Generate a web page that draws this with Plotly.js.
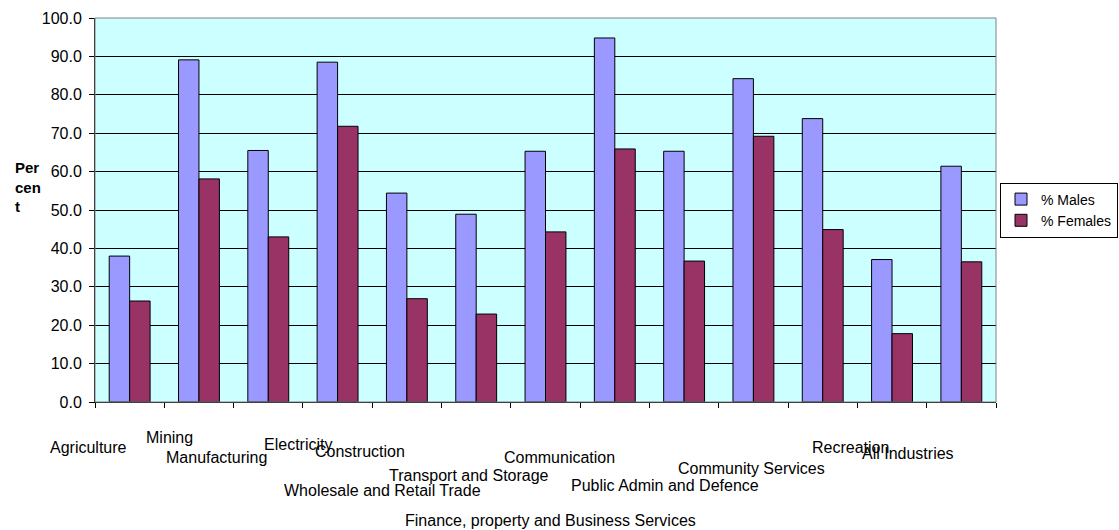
<!DOCTYPE html>
<html>
<head>
<meta charset="utf-8">
<script src="https://cdn.plot.ly/plotly-3.0.1.min.js"></script>
<style>
  html, body { margin: 0; padding: 0; background: #ffffff; }
  #chart { width: 1119px; height: 530px; }
</style>
</head>
<body>
<div id="chart"></div>
<script>
// Industry categories, in axis order
const industries = [
  "Agriculture", "Mining", "Manufacturing", "Electricity", "Construction",
  "Wholesale and Retail Trade", "Transport and Storage", "Communication",
  "Finance, property and Business Services", "Public Admin and Defence",
  "Community Services", "Recreation", "All Industries"
];

// Percentage values per industry
const malesPct   = [38.0, 89.1, 65.5, 88.5, 54.4, 48.9, 65.3, 94.8, 65.3, 84.2, 73.8, 37.1, 61.4];
const femalesPct = [26.3, 58.1, 43.0, 71.8, 26.9, 22.9, 44.3, 65.9, 36.7, 69.2, 44.9, 17.8, 36.5];

// Y axis tick values
const yTicks = [0, 10, 20, 30, 40, 50, 60, 70, 80, 90, 100];

// Staggered category label placement: horizontal offset (in categories)
// from each group's centre, and vertical drop below the axis (px)
const labelDx = [-0.600, -0.425, -0.754, -0.571, -0.676, -1.351, -1.110, -0.797, -1.934, -1.282, -1.027, -0.598, -0.768];
const labelDy = [45, 35, 55, 42, 49, 88, 73, 55, 118, 83, 66, 45, 51];

const font = "Liberation Sans, Arial, sans-serif";
const nCat = industries.length;

const traces = [
  {
    type: "bar",
    name: "% Males",
    x: industries.map((_, i) => i),
    y: malesPct,
    marker: { color: "#9999FF", line: { color: "#000000", width: 1 } },
    hoverinfo: "y"
  },
  {
    type: "bar",
    name: "% Females",
    x: industries.map((_, i) => i),
    y: femalesPct,
    marker: { color: "#993366", line: { color: "#000000", width: 1 } },
    hoverinfo: "y"
  }
];

// Category labels, staggered below the axis
const annotations = industries.map((name, i) => ({
  text: name,
  xref: "paper", yref: "paper",
  x: (i + 0.5 + labelDx[i]) / nCat, y: 0,
  yshift: -labelDy[i],
  xanchor: "center", yanchor: "middle",
  showarrow: false,
  font: { family: font, size: 16, color: "#000000" }
}));

// Y axis title, wrapped over three lines
annotations.push({
  text: "<b>Per<br>cen<br>t</b>",
  xref: "paper", yref: "paper",
  x: -0.091, y: 0.56,
  xanchor: "left", yanchor: "middle",
  align: "left",
  showarrow: false,
  font: { family: font, size: 15, color: "#000000" }
});

const layout = {
  width: 1119,
  height: 530,
  margin: { l: 95, r: 123, t: 18, b: 128 },
  paper_bgcolor: "#ffffff",
  plot_bgcolor: "#CCFFFF",
  barmode: "group",
  bargap: 0.41,
  bargroupgap: 0,
  font: { family: font, size: 16, color: "#000000" },
  xaxis: {
    type: "linear",
    range: [-0.5, nCat - 0.5],
    tickvals: industries.map((_, i) => i - 0.5).concat([nCat - 0.5]),
    showticklabels: false,
    ticks: "outside",
    ticklen: 5,
    tickcolor: "#000000",
    showgrid: false,
    zeroline: false,
    showline: true,
    linecolor: "#000000",
    linewidth: 1
  },
  yaxis: {
    range: [0, 100],
    tickvals: yTicks,
    tickformat: ".1f",
    ticks: "outside",
    ticklen: 5,
    tickcolor: "#000000",
    ticklabelstandoff: 4,
    showgrid: true,
    gridcolor: "#000000",
    gridwidth: 1,
    zeroline: false,
    showline: true,
    linecolor: "#000000",
    linewidth: 1,
    tickfont: { family: font, size: 16, color: "#000000" }
  },
  shapes: [
    {
      type: "rect", xref: "paper", yref: "paper",
      x0: 0, x1: 1, y0: 0, y1: 1,
      line: { color: "#808080", width: 1 },
      fillcolor: "rgba(0,0,0,0)",
      layer: "above"
    }
  ],
  legend: {
    xref: "container", yref: "container",
    x: 1118 / 1119, y: 1 - 210 / 530,
    xanchor: "right", yanchor: "middle",
    bgcolor: "#ffffff",
    bordercolor: "#000000",
    borderwidth: 1,
    font: { family: font, size: 14, color: "#000000" },
    itemwidth: 30,
    tracegroupgap: 0
  },
  annotations: annotations,
  showlegend: true
};

Plotly.newPlot("chart", traces, layout, { displayModeBar: false, staticPlot: true });
</script>
</body>
</html>
